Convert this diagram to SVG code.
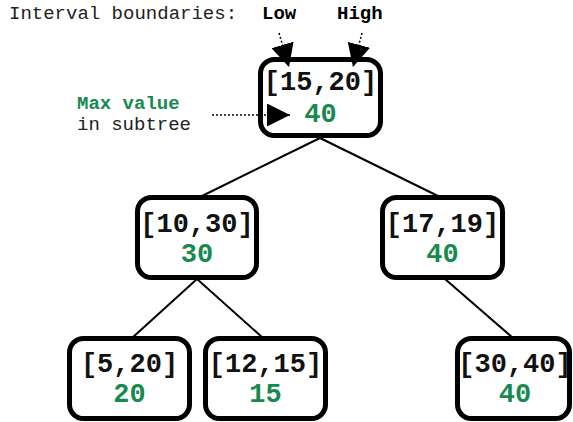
<svg xmlns="http://www.w3.org/2000/svg" width="573" height="422" viewBox="0 0 573 422">
<style>
.box{fill:#fff;stroke:#000;stroke-width:5}
.lbl{font-family:"Liberation Mono","Courier New",monospace;font-weight:bold;font-size:27px;text-anchor:middle;fill:#111}
.max{font-family:"Liberation Mono","Courier New",monospace;font-weight:bold;font-size:27px;text-anchor:middle;fill:#168a4f}
.note{font-family:"Liberation Mono","Courier New",monospace;font-size:19px;fill:#222}
.bold{font-weight:bold;fill:#000}
.green{font-weight:bold;fill:#168a4f}
.edge{stroke:#000;stroke-width:2;fill:none}
.dot{stroke:#000;stroke-width:1.5;stroke-dasharray:2,2;fill:none}
</style>
<defs>
<marker id="ah" viewBox="0 0 10 10" refX="10" refY="5" markerWidth="23" markerHeight="23" markerUnits="userSpaceOnUse" orient="auto">
<path d="M0,0 L10,5 L0,10 Z" fill="#000"/>
</marker>
</defs>
<g id="connectors">
<line class="edge" x1="320" y1="138" x2="200" y2="197"/>
<line class="edge" x1="320" y1="138" x2="440" y2="197"/>
<line class="edge" x1="197" y1="279" x2="132" y2="338"/>
<line class="edge" x1="197" y1="279" x2="263" y2="338"/>
<line class="edge" x1="445" y1="279" x2="513" y2="338"/>
</g>
<g id="n15_20">
<rect class="box" x="260.5" y="59.5" width="120" height="76" rx="14"/>
<text class="lbl" x="320.5" y="90">[15,20]</text>
<text class="max" x="320.5" y="122">40</text>
</g>
<g id="n10_30">
<rect class="box" x="137.5" y="197.5" width="119" height="80" rx="14"/>
<text class="lbl" x="197" y="232">[10,30]</text>
<text class="max" x="197" y="262">30</text>
</g>
<g id="n17_19">
<rect class="box" x="382.5" y="197.5" width="120" height="80" rx="14"/>
<text class="lbl" x="442.5" y="232">[17,19]</text>
<text class="max" x="442.5" y="262">40</text>
</g>
<g id="n5_20">
<rect class="box" x="69.5" y="338.5" width="120" height="80" rx="14"/>
<text class="lbl" x="129.5" y="372">[5,20]</text>
<text class="max" x="129.5" y="402">20</text>
</g>
<g id="n12_15">
<rect class="box" x="205.5" y="338.5" width="120" height="80" rx="14"/>
<text class="lbl" x="265.5" y="372">[12,15]</text>
<text class="max" x="265.5" y="402">15</text>
</g>
<g id="n30_40">
<rect class="box" x="457.5" y="338.5" width="112" height="80" rx="14"/>
<text class="lbl" x="515" y="372">[30,40]</text>
<text class="max" x="515" y="402">40</text>
</g>
<g id="annotations">
<text class="note" x="9" y="19">Interval boundaries:</text>
<text class="note bold" x="262" y="19">Low</text>
<text class="note bold" x="337" y="19">High</text>
<text class="note green" x="77" y="109">Max value</text>
<text class="note" x="77" y="130">in subtree</text>
<line class="dot" x1="279" y1="33" x2="289" y2="67" marker-end="url(#ah)"/>
<line class="dot" x1="362" y1="33" x2="353" y2="67" marker-end="url(#ah)"/>
<line class="dot" x1="212" y1="115" x2="290" y2="115" marker-end="url(#ah)"/>
</g>
</svg>
